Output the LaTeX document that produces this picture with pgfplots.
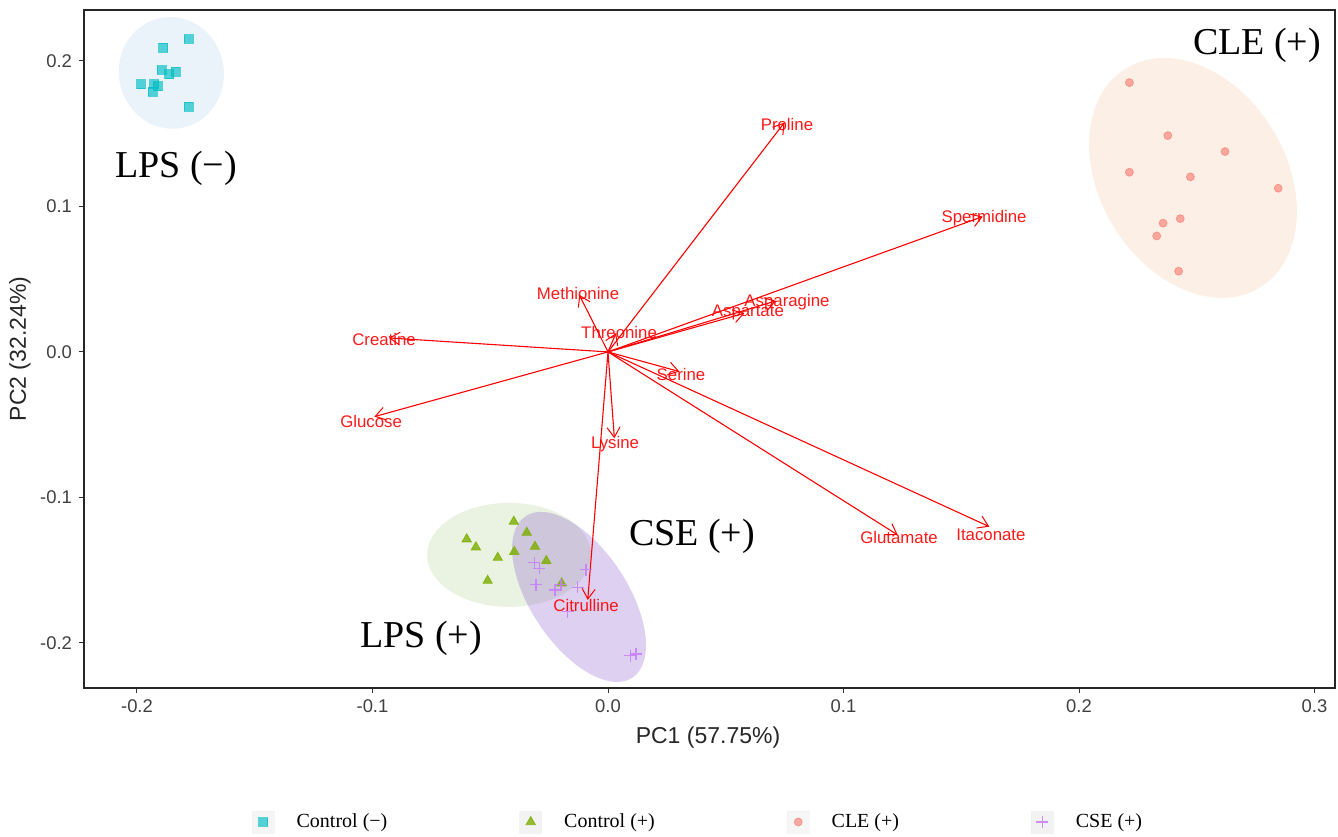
\documentclass[border=0pt]{standalone}
\usepackage{fontspec}
\setmainfont{Liberation Serif}
\setsansfont{Liberation Sans}
\usepackage{pgfplots}
\usepackage{pgfplotstable}
\pgfplotsset{compat=1.18}
\usetikzlibrary{arrows.meta}

\definecolor{cneg}{HTML}{00BFC4}
\definecolor{cpos}{HTML}{7CAE00}
\definecolor{ccle}{HTML}{F8766D}
\definecolor{ccse}{HTML}{C77CFF}
\definecolor{eneg}{HTML}{96BEE6}
\definecolor{epos}{HTML}{96C36E}
\definecolor{ecle}{HTML}{F0B482}
\definecolor{ecse}{HTML}{8E62CD}

\pgfplotstableread{
x y
-0.1781 0.2151
-0.1889 0.2091
-0.1895 0.1938
-0.1835 0.1926
-0.1863 0.1909
-0.1983 0.1840
-0.1927 0.1842
-0.1912 0.1826
-0.1934 0.1789
-0.1781 0.1686
}\ctrlneg

\pgfplotstableread{
x y
-0.0400 -0.1166
-0.0345 -0.1242
-0.0600 -0.1287
-0.0561 -0.1342
-0.0310 -0.1338
-0.0398 -0.1373
-0.0468 -0.1414
-0.0262 -0.1436
-0.0511 -0.1572
-0.0197 -0.1590
}\ctrlpos

\pgfplotstableread{
x y
0.2214 0.1851
0.2377 0.1487
0.2620 0.1377
0.2214 0.1235
0.2473 0.1203
0.2846 0.1125
0.2430 0.0916
0.2357 0.0885
0.2330 0.0797
0.2423 0.0555
}\cle

\pgfplotstableread{
x y
-0.0313 -0.1448
-0.0292 -0.1487
-0.0093 -0.1498
-0.0306 -0.1601
-0.0225 -0.1636
-0.0129 -0.1617
-0.0200 -0.1601
-0.0171 -0.1785
0.0095 -0.2087
0.0119 -0.2076
}\cse

\pgfplotstableread{
x y u v
0 0 0.0749 0.1576
0 0 0.1591 0.0930
0 0 0.0713 0.0351
0 0 0.0579 0.0266
0 0 -0.0122 0.0392
0 0 0.0034 0.0129
0 0 -0.0930 0.0096
0 0 -0.0992 -0.0445
0 0 0.0303 -0.0135
0 0 0.0027 -0.0593
0 0 0.1230 -0.1258
0 0 0.1619 -0.1201
0 0 -0.0086 -0.1704
}\loadings

\pgfplotstableread{
x y label
0.0760 0.1560 Proline
0.1597 0.0921 Spermidine
0.0760 0.0344 Asparagine
0.0594 0.0268 Aspartate
-0.0127 0.0399 Methionine
0.0047 0.0131 Threonine
-0.0951 0.0082 Creatine
-0.1006 -0.0481 Glucose
0.0310 -0.0158 Serine
0.0030 -0.0632 Lysine
0.1236 -0.1278 Glutamate
0.1626 -0.1258 Itaconate
-0.0093 -0.1746 Citrulline
}\labels

\begin{document}
\begin{tikzpicture}
\begin{axis}[
  scale only axis, width=625.5pt, height=339pt,
  xmin=-0.2225, xmax=0.3087, ymin=-0.231, ymax=0.235,
  axis line style={black!85, line width=0.7pt},
  tick align=outside, major tick length=2.5pt,
  xtick pos=lower, ytick pos=left,
  tick style={black!80, line width=0.5pt},
  xtick={-0.2,-0.1,0,0.1,0.2,0.3},
  xticklabels={-0.2,-0.1,0.0,0.1,0.2,0.3},
  ytick={-0.2,-0.1,0,0.1,0.2},
  yticklabels={-0.2,-0.1,0.0,0.1,0.2},
  ticklabel style={font=\sffamily\fontsize{9.2}{11}\selectfont, text=black!75},
  xlabel={PC1 (57.75\%)}, ylabel={PC2 (32.24\%)},
  label style={font=\sffamily\fontsize{11.5}{13}\selectfont, text=black!85},
  xlabel style={at={(axis description cs:0.4988,-0.0737)}, anchor=center},
  ylabel style={at={(axis description cs:-0.0512,0.5)}, anchor=center},
  legend columns=4,
  legend cell align=left,
  legend style={at={(0.4924,-0.1976)}, anchor=center, draw=none, fill=none,
    font=\fontsize{10}{12}\selectfont,
    nodes={inner xsep=3pt},
    /tikz/every odd column/.append style={column sep=8pt},
    /tikz/every even column/.append style={column sep=63pt}},
  legend image code/.code={%
    \fill[black!6] (-5.5pt,-5.5pt) rectangle (5.5pt,5.5pt);
    \draw[#1] plot coordinates {(0pt,0pt)};},
]
\addplot[only marks, mark=square*, mark size=2.2pt, color=cneg, opacity=0.65] table {\ctrlneg};
\addlegendentry{Control (−)}
\addplot[only marks, mark=triangle*, mark size=2.7pt, color=cpos, opacity=0.8] table {\ctrlpos};
\addlegendentry{Control (+)}
\addplot[only marks, mark=*, mark size=2pt, color=ccle, opacity=0.6] table {\cle};
\addlegendentry{CLE (+)}
\addplot[only marks, mark=+, mark size=3pt, color=ccse, opacity=0.85, mark options={line width=0.6pt}] table {\cse};
\addlegendentry{CSE (+)}

% confidence ellipses
\fill[eneg, fill opacity=0.2, rotate around={10:(axis cs:-0.1854,0.1918)}] (axis cs:-0.1854,0.1918) ellipse [x radius=26.25pt, y radius=28pt];
\fill[epos, fill opacity=0.2] (axis cs:-0.0420,-0.1395) ellipse [x radius=41pt, y radius=26pt];
\fill[ecle, fill opacity=0.2, rotate around={31.4:(axis cs:0.2484,0.1196)}] (axis cs:0.2484,0.1196) ellipse [x radius=46.6pt, y radius=64.25pt];
\fill[ecse, fill opacity=0.3, rotate around={33.5:(axis cs:-0.0123,-0.1684)}] (axis cs:-0.0123,-0.1684) ellipse [x radius=24.2pt, y radius=48.4pt];

% loadings
\addplot[forget plot, red, line width=0.55pt, quiver={u=\thisrow{u}, v=\thisrow{v}},
  -{Straight Barb[length=5pt, width=6.5pt, line width=0.5pt]}] table {\loadings};
\addplot[forget plot, only marks, mark=none, nodes near coords, point meta=explicit symbolic,
  nodes near coords style={anchor=center, text=red, opacity=0.9, font=\sffamily\fontsize{8.4}{10}\selectfont, inner sep=0pt}]
  table[meta=label] {\labels};

% group labels
\node[font=\fontsize{19}{22}\selectfont] at (axis cs:-0.1834,0.1265) {LPS (−)};
\node[font=\fontsize{19}{22}\selectfont] at (axis cs:0.2756,0.2110) {CLE (+)};
\node[font=\fontsize{19}{22}\selectfont] at (axis cs:0.0357,-0.1271) {CSE (+)};
\node[font=\fontsize{19}{22}\selectfont] at (axis cs:-0.0794,-0.1966) {LPS (+)};

\coordinate (SW) at (rel axis cs:0,0);
\coordinate (NE) at (rel axis cs:1,1);
\end{axis}
\pgfresetboundingbox
\path ([shift={(-42pt,-74pt)}]SW) rectangle ([shift={(1.5pt,5pt)}]NE);
\end{tikzpicture}
\end{document}
